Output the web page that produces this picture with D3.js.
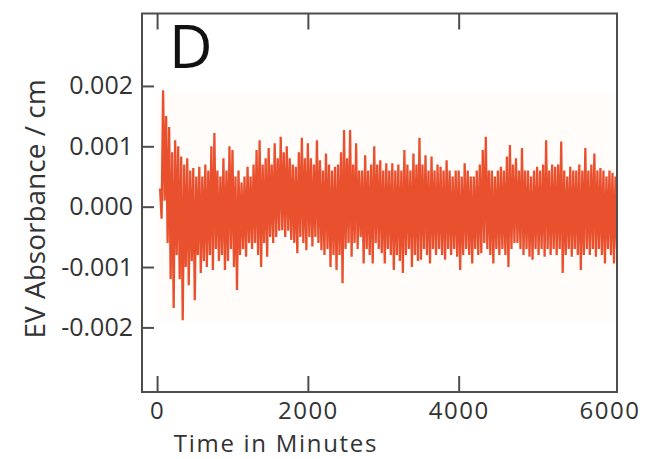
<!DOCTYPE html>
<html>
<head>
<meta charset="utf-8">
<script src="https://cdn.jsdelivr.net/npm/d3@7"></script>
<style>
  html, body { margin: 0; padding: 0; background: #ffffff; }
  svg { display: block; }
  text { font-family: "Open Sans", "Noto Sans", sans-serif; }
</style>
</head>
<body>
<div id="chart"></div>
<script>
// ---- data ----
const panelLabel = "D";
const xTitle = "Time in Minutes";
const yTitle = "EV Absorbance / cm";
const xTickValues = [0, 2000, 4000, 6000];
const yTickValues = [-0.002, -0.001, 0.000, 0.001, 0.002];
const startMinute = 40;     // first sample time
const stepMinutes = 20;     // sampling interval
const absorbance = [
  0.0003, -0.0002, 0.00193, 0.0001, 0.0015, -0.0006, 0.00132, -0.0012, 0.0009, -0.00168,
  0.0011, -0.0008, 0.001, -0.0012, 0.00083, -0.00188, 0.0007, -0.001, 0.0008, -0.0013,
  0.0006, -0.0009, 0.00064, -0.00155, 0.0005, -0.0008, 0.00066, -0.0011, 0.0005, -0.0009,
  0.0007, -0.001, 0.0006, -0.0008, 0.001, -0.00105, 0.00122, -0.0007, 0.0006, -0.0009,
  0.0005, -0.0008, 0.0008, -0.00105, 0.0006, -0.0009, 0.001, -0.0007, 0.00094, -0.001,
  0.0005, -0.00138, 0.0006, -0.0008, 0.0004, -0.0007, 0.0005, -0.00083, 0.00066, -0.0006,
  0.0005, -0.0007, 0.0007, -0.0006, 0.00094, -0.0008, 0.0011, -0.001, 0.0007, -0.0006,
  0.0008, -0.00083, 0.00097, -0.0005, 0.0007, -0.0006, 0.00105, -0.0005, 0.0008, -0.0004,
  0.00116, -0.00039, 0.0009, -0.0005, 0.001, -0.0004, 0.0008, -0.00055, 0.0007, -0.0006,
  0.00066, -0.00077, 0.0009, -0.0005, 0.00114, -0.0006, 0.0008, -0.00072, 0.00105, -0.0005,
  0.0008, -0.00066, 0.0007, -0.0005, 0.0011, -0.0006, 0.00077, -0.00072, 0.0006, -0.0008,
  0.00088, -0.0007, 0.0007, -0.001, 0.0006, -0.0008, 0.00066, -0.00105, 0.0007, -0.0008,
  0.0009, -0.00127, 0.00127, -0.0007, 0.0008, -0.0006, 0.00127, -0.00083, 0.0007, -0.0006,
  0.00105, -0.0007, 0.0006, -0.0005, 0.0006, -0.00094, 0.00085, -0.0007, 0.0006, -0.0008,
  0.0007, -0.00094, 0.001, -0.0006, 0.0007, -0.0007, 0.00077, -0.00077, 0.0006, -0.00094,
  0.00072, -0.0007, 0.0006, -0.0008, 0.00072, -0.00105, 0.0006, -0.0008, 0.0007, -0.0009,
  0.0006, -0.0011, 0.00094, -0.0008, 0.0007, -0.0007, 0.0006, -0.001, 0.00088, -0.0008,
  0.0007, -0.0009, 0.00114, -0.00088, 0.0007, -0.0007, 0.00085, -0.0008, 0.0006, -0.00094,
  0.00083, -0.0007, 0.0006, -0.0008, 0.0007, -0.0007, 0.00066, -0.0008, 0.0006, -0.00088,
  0.00077, -0.0007, 0.0006, -0.0008, 0.0005, -0.0007, 0.0006, -0.00083, 0.0006, -0.00105,
  0.0005, -0.0008, 0.00072, -0.0007, 0.0006, -0.0008, 0.0005, -0.00094, 0.0005, -0.0007,
  0.0006, -0.0008, 0.0007, -0.00077, 0.00094, -0.0006, 0.00116, -0.0007, 0.0006, -0.0008,
  0.0006, -0.00094, 0.0005, -0.0007, 0.0006, -0.0008, 0.00066, -0.0007, 0.0006, -0.0008,
  0.00083, -0.001, 0.00102, -0.0007, 0.0007, -0.0006, 0.0008, -0.0006, 0.0006, -0.0007,
  0.00097, -0.0008, 0.0006, -0.0007, 0.0006, -0.00083, 0.0005, -0.00088, 0.0006, -0.0007,
  0.00066, -0.0008, 0.0006, -0.0007, 0.0007, -0.00083, 0.0011, -0.0007, 0.0006, -0.0008,
  0.0007, -0.0007, 0.00066, -0.0008, 0.0007, -0.0007, 0.00108, -0.0011, 0.0006, -0.0008,
  0.0005, -0.0007, 0.00066, -0.00083, 0.0006, -0.0007, 0.0006, -0.0008, 0.0007, -0.00105,
  0.0006, -0.0008, 0.00097, -0.0007, 0.0006, -0.0008, 0.0007, -0.0007, 0.00088, -0.00083,
  0.0006, -0.0007, 0.00064, -0.0008, 0.0006, -0.00094, 0.0005, -0.0007, 0.0006, -0.0008,
  0.00056, -0.00094, 0.0005, -0.0007
];

// ---- layout ----
const W = 661, H = 459;
const frame = { left: 142, right: 617, top: 13.5, bottom: 392 };
const lineColor = "#e9502d";
const axisColor = "#4d4d4d";

const points = absorbance.map((v, i) => ({ t: startMinute + i * stepMinutes, v }));

const x = d3.scaleLinear().domain([-200, 6100]).range([frame.left, frame.right]);
const y = d3.scaleLinear().domain([-0.00307, 0.0032]).range([frame.bottom, frame.top]);

const svg = d3.select("#chart").append("svg")
  .attr("width", W).attr("height", H);

svg.append("rect").attr("width", W).attr("height", H).attr("fill", "#ffffff");

// faint tint behind the trace
svg.append("rect")
  .attr("x", x(0)).attr("y", y(0.0019))
  .attr("width", frame.right - x(0)).attr("height", y(-0.0019) - y(0.0019))
  .attr("fill", "#fffcfa");

// clip
svg.append("clipPath").attr("id", "clip")
  .append("rect")
  .attr("x", frame.left).attr("y", frame.top)
  .attr("width", frame.right - frame.left).attr("height", frame.bottom - frame.top);

const line = d3.line().x(d => x(d.t)).y(d => y(d.v));
svg.append("path")
  .datum(points)
  .attr("clip-path", "url(#clip)")
  .attr("fill", "none")
  .attr("stroke", lineColor)
  .attr("stroke-width", 2.3)
  .attr("stroke-linejoin", "miter")
  .attr("stroke-miterlimit", 2)
  .attr("d", line);

// ---- axes ----
const fmtY = d => d.toFixed(3);

// bottom axis: ticks inward
const xAxis = d3.axisBottom(x).tickValues(xTickValues).tickSize(-16)
  .tickFormat(d3.format("d"));
const gx = svg.append("g").attr("transform", `translate(0,${frame.bottom})`).call(xAxis);
gx.select(".domain").remove();
gx.selectAll(".tick line").attr("stroke", axisColor).attr("stroke-width", 2)
  .filter(d => d === 6000).remove();
gx.selectAll(".tick text")
  .attr("font-family", "'Open Sans', sans-serif")
  .attr("font-size", 24).attr("fill", "#333").attr("dy", "0")
  .attr("letter-spacing", 1.5)
  .attr("y", 419 - frame.bottom);

// top mirror ticks
const xTop = d3.axisTop(x).tickValues(xTickValues.filter(d => d !== 6000)).tickSize(-16).tickFormat("");
const gxt = svg.append("g").attr("transform", `translate(0,${frame.top})`).call(xTop);
gxt.select(".domain").remove();
gxt.selectAll(".tick line").attr("stroke", axisColor).attr("stroke-width", 2);

// left axis: ticks inward
const yAxis = d3.axisLeft(y).tickValues(yTickValues).tickSize(-12).tickFormat(fmtY);
const gy = svg.append("g").attr("transform", `translate(${frame.left},0)`).call(yAxis);
gy.select(".domain").remove();
gy.selectAll(".tick line").attr("stroke", axisColor).attr("stroke-width", 2);
gy.selectAll(".tick text")
  .attr("font-family", "'Open Sans', sans-serif")
  .attr("font-size", 25).attr("fill", "#333")
  .attr("x", -9);

// frame
svg.append("rect")
  .attr("x", frame.left).attr("y", frame.top)
  .attr("width", frame.right - frame.left).attr("height", frame.bottom - frame.top)
  .attr("fill", "none").attr("stroke", axisColor).attr("stroke-width", 2);

// titles
svg.append("text")
  .attr("x", 276).attr("y", 451.5)
  .attr("text-anchor", "middle")
  .attr("font-size", 24).attr("fill", "#333")
  .attr("letter-spacing", 1.7)
  .text(xTitle);

svg.append("text")
  .attr("transform", `translate(45,209) rotate(-90)`)
  .attr("text-anchor", "middle")
  .attr("font-size", 28).attr("fill", "#333")
  .text(yTitle);

// panel letter
svg.append("text")
  .attr("x", 169).attr("y", 68)
  .attr("font-size", 60).attr("fill", "#111")
  .text(panelLabel);
</script>
</body>
</html>
